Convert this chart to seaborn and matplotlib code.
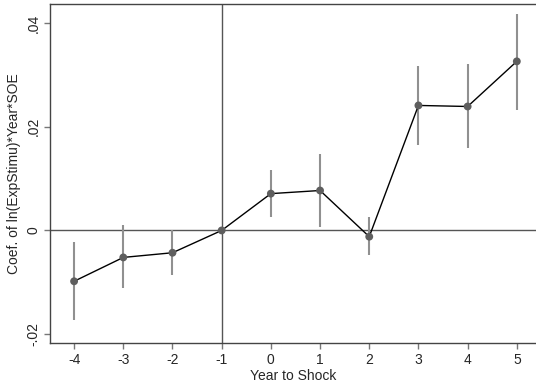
import matplotlib
matplotlib.use("Agg")
import matplotlib.pyplot as plt
import seaborn as sns
import pandas as pd

sns.set_theme(style="white")
plt.rcParams["font.family"] = ["Liberation Sans", "DejaVu Sans"]

years = [-4, -3, -2, -1, 0, 1, 2, 3, 4, 5]
coef = [-0.0098, -0.0052, -0.0043, 0.0, 0.0071, 0.0077, -0.0012, 0.0241, 0.0239, 0.0326]
ci_low = [-0.0172, -0.0111, -0.0085, 0.0, 0.0025, 0.0006, -0.0048, 0.0165, 0.0158, 0.0233]
ci_high = [-0.0023, 0.0010, 0.0001, 0.0, 0.0116, 0.0148, 0.0025, 0.0317, 0.0320, 0.0418]

df = pd.DataFrame({"year": years, "coef": coef, "lo": ci_low, "hi": ci_high})

fig = plt.figure(figsize=(5.36, 3.88), dpi=100)
ax = fig.add_axes([50 / 536, 45 / 388, 486 / 536, 338.7 / 388])

ax.axhline(0, color="#555555", lw=1.0, zorder=1)
ax.axvline(-1, color="#555555", lw=1.0, zorder=1)
ax.vlines(df["year"], df["lo"], df["hi"], color="#909090", lw=1.5, zorder=2)
sns.lineplot(data=df, x="year", y="coef", color="black", lw=1.0, ax=ax, zorder=3)
sns.scatterplot(data=df, x="year", y="coef", color="#5e5e5e", s=32, edgecolor="none", ax=ax, zorder=4)

ax.set_xlim(-4.49, 5.39)
ax.set_ylim(-0.0217, 0.0436)
ax.set_xticks(years)
ax.set_xticklabels([str(y) for y in years])
ax.set_yticks([-0.02, 0, 0.02, 0.04])
ax.set_yticklabels(["-.02", "0", ".02", ".04"], rotation=90, va="center")

for side in ["left", "bottom", "top"]:
    ax.spines[side].set_color("#444444")
    ax.spines[side].set_linewidth(1.0)
ax.spines["right"].set_visible(False)
ax.tick_params(axis="both", which="both", length=4, width=1, color="#777777",
               labelsize=10, direction="out", pad=3, bottom=True, left=True)

ax.set_xlabel("Year to Shock", fontsize=10, labelpad=2)
ax.set_ylabel("Coef. of ln(ExpStimu)*Year*SOE", fontsize=10, labelpad=4)

fig.savefig("out.png", dpi=100)
